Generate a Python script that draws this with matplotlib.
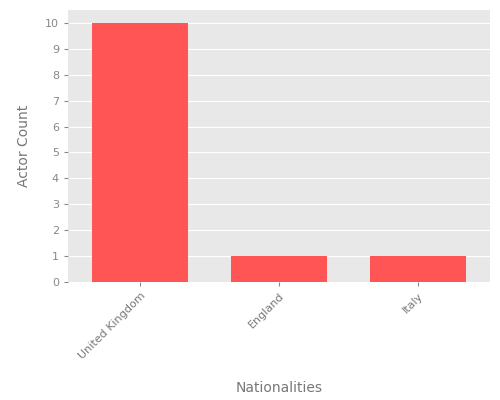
import matplotlib
matplotlib.use("Agg")
import matplotlib.pyplot as plt

categories = ["United Kingdom", "England", "Italy"]
counts = [10, 1, 1]

fig = plt.figure(figsize=(5, 4), dpi=100)
ax = fig.add_axes([0.136, 0.295, 0.844, 0.68])
ax.set_facecolor("#E8E8E8")
ax.bar(range(len(categories)), counts, width=0.69, color="#FF5555", zorder=3)
ax.set_xlim(-0.52, 2.52)
ax.set_ylim(0, 10.5)
ax.set_yticks(range(0, 11))
ax.set_xticks(range(len(categories)))
ax.set_xticklabels(categories, rotation=45, ha="right", rotation_mode="anchor")
ax.grid(axis="y", color="white", linewidth=0.8, zorder=0)
for s in ax.spines.values():
    s.set_visible(False)
ax.tick_params(colors="#888888", labelsize=8, length=3)
ax.tick_params(axis="x", labelcolor="#777777")
ax.set_xlabel("Nationalities", color="#777777", fontsize=10, labelpad=14)
ax.set_ylabel("Actor Count", color="#777777", fontsize=10, labelpad=10)
fig.savefig("out.png", dpi=100)
